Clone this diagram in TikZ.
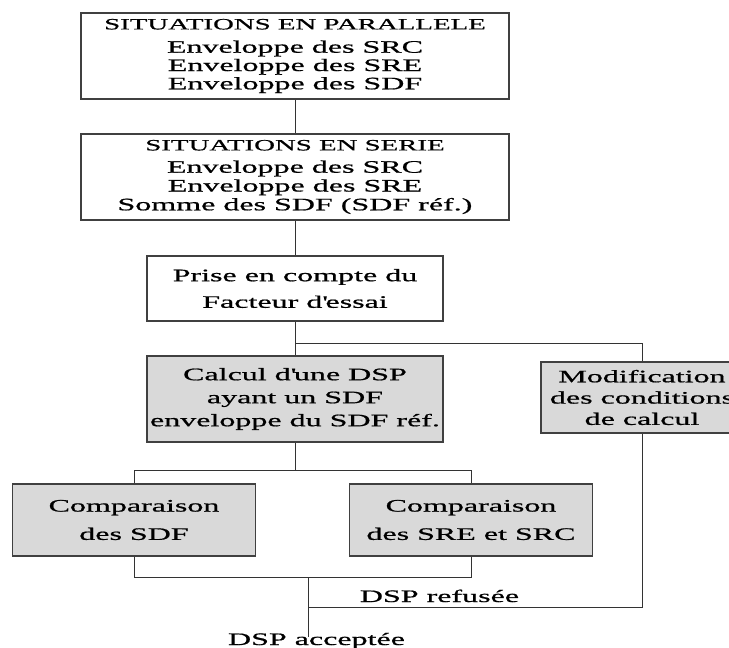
\documentclass[tikz,border=0pt]{standalone}
\usepackage{fontspec}
\setmainfont[FakeStretch=1.83, FakeBold=0.8]{Liberation Serif}
\definecolor{boxgrey}{HTML}{D9D9D9}
\newcommand{\hdr}[1]{{\fontsize{15.75}{18}\selectfont #1}}

\begin{document}
\begin{tikzpicture}[x=1pt,y=-1pt,
  every node/.style={inner sep=0pt},
  box/.style={draw=black!75, line width=1.1pt, fill=white, align=center},
  greybox/.style={box, fill=boxgrey},
  link/.style={draw=black!80, line width=1pt}]
\clip (0,0) rectangle (729,648);
% boxes
\node [box, minimum width=428pt, minimum height=86pt, font=\fontsize{17.5}{18.3}\selectfont] (par) at (295,56)
  {\hdr{SITUATIONS EN PARALLELE}\\[5pt] Enveloppe des SRC\\ Enveloppe des SRE\\ Enveloppe des SDF};
\node [box, minimum width=428pt, minimum height=86pt, font=\fontsize{17.5}{18.8}\selectfont] (ser) at (295,177)
  {\hdr{SITUATIONS EN SERIE}\\[3.5pt] Enveloppe des SRC\\ Enveloppe des SRE\\ Somme des SDF (SDF réf.)};
\node [box, minimum width=296pt, minimum height=65pt, font=\fontsize{17.5}{26.6}\selectfont] (prise) at (295,288.5)
  {Prise en compte du\\ Facteur d\textquotesingle essai};
\node [greybox, minimum width=296pt, minimum height=86pt, font=\fontsize{17.5}{23}\selectfont] (calc) at (295,399)
  {Calcul d\textquotesingle une DSP\\ ayant un SDF\\ enveloppe du SDF réf.};
\node [greybox, minimum width=202pt, minimum height=71pt, font=\fontsize{17.5}{21.3}\selectfont] (modif) at (642,397.5)
  {Modification\\ des conditions\\ de calcul};
\node [greybox, minimum width=243pt, minimum height=72pt, font=\fontsize{17.5}{28.3}\selectfont] (cmpsdf) at (134,520)
  {Comparaison\\ des SDF};
\node [greybox, minimum width=243pt, minimum height=72pt, font=\fontsize{17.5}{28.3}\selectfont] (cmpsre) at (471,520)
  {Comparaison\\ des SRE et SRC};
% outcomes
\node [anchor=base, font=\fontsize{17.5}{20}\selectfont] (refus) at (439.5,602) {DSP refusée};
\node [anchor=base, font=\fontsize{17.5}{20}\selectfont] (accept) at (316.5,645) {DSP acceptée};
\coordinate (branch) at (295,343);
\coordinate (split) at (295,470);
\coordinate (join) at (308,577);
\coordinate (back) at (308,607);
\coordinate (accend) at (308,637);
% links
\draw [link] (par.south) -- (ser.north);
\draw [link] (ser.south) -- (prise.north);
\draw [link] (prise.south) -- (calc.north);
\draw [link] (branch) -| (modif.north);
\draw [link] (calc.south) -- (split);
\draw [link] (cmpsdf.north) -- (cmpsdf.north |- split) -- (cmpsre.north |- split) -- (cmpsre.north);
\draw [link] (cmpsdf.south) -- (cmpsdf.south |- join) -- (cmpsre.south |- join) -- (cmpsre.south);
\draw [link] (join) -- (accend);
\draw [link] (back) -| (modif.south);
\end{tikzpicture}
\end{document}
